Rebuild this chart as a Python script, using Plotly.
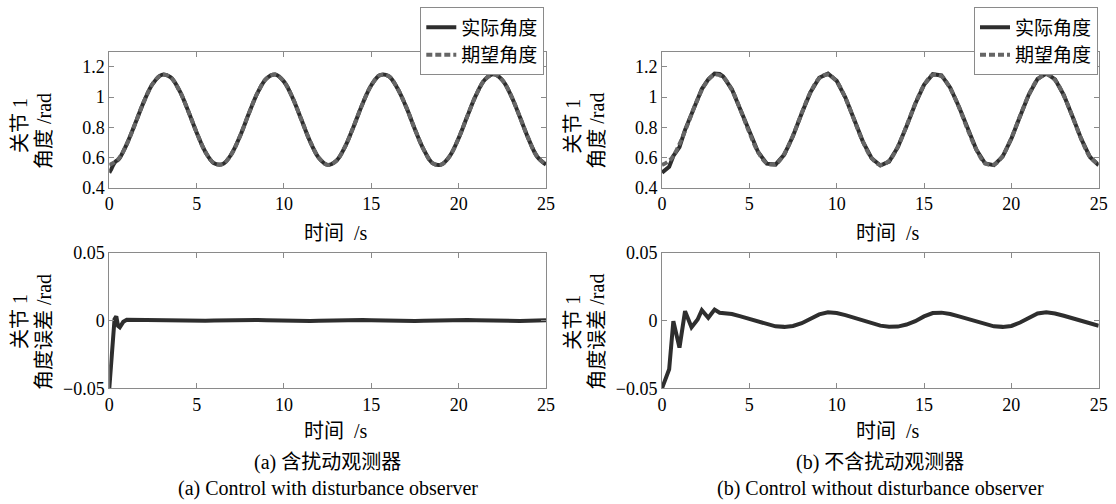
import plotly.graph_objects as go

# ---------------- data ----------------
t_grid = [0.0, 0.5, 1.0, 1.5, 2.0, 2.5, 3.0, 3.5, 4.0, 4.5, 5.0, 5.5, 6.0, 6.5, 7.0, 7.5,
          8.0, 8.5, 9.0, 9.5, 10.0, 10.5, 11.0, 11.5, 12.0, 12.5, 13.0, 13.5, 14.0, 14.5,
          15.0, 15.5, 16.0, 16.5, 17.0, 17.5, 18.0, 18.5, 19.0, 19.5, 20.0, 20.5, 21.0,
          21.5, 22.0, 22.5, 23.0, 23.5, 24.0, 24.5, 25.0]

desired_angle = [0.550, 0.587, 0.688, 0.829, 0.975, 1.090, 1.147, 1.131, 1.046, 0.913,
                 0.765, 0.637, 0.562, 0.557, 0.624, 0.746, 0.894, 1.031, 1.123, 1.149,
                 1.102, 0.993, 0.849, 0.705, 0.597, 0.551, 0.578, 0.672, 0.809, 0.956,
                 1.078, 1.145, 1.137, 1.057, 0.933, 0.785, 0.652, 0.563, 0.553, 0.611,
                 0.728, 0.874, 1.014, 1.115, 1.150, 1.112, 1.010, 0.869, 0.723, 0.605, 0.553]

# (a) with disturbance observer
t_actual_a = [0.0, 0.1, 0.2, 0.3, 0.4, 0.5, 0.6, 0.8, 1.0, 1.5, 2.0, 2.5, 3.0, 3.5, 4.0, 4.5,
              5.0, 5.5, 6.0, 6.5, 7.0, 7.5, 8.0, 8.5, 9.0, 9.5, 10.0, 10.5, 11.0, 11.5,
              12.0, 12.5, 13.0, 13.5, 14.0, 14.5, 15.0, 15.5, 16.0, 16.5, 17.0, 17.5, 18.0,
              18.5, 19.0, 19.5, 20.0, 20.5, 21.0, 21.5, 22.0, 22.5, 23.0, 23.5, 24.0, 24.5, 25.0]
actual_angle_a = [0.500, 0.520, 0.544, 0.564, 0.577, 0.583, 0.597, 0.640, 0.688, 0.829,
                  0.975, 1.090, 1.147, 1.131, 1.046, 0.913, 0.765, 0.637, 0.562, 0.557,
                  0.624, 0.746, 0.894, 1.031, 1.123, 1.149, 1.102, 0.993, 0.849, 0.705,
                  0.597, 0.551, 0.578, 0.672, 0.809, 0.956, 1.078, 1.145, 1.137, 1.057,
                  0.933, 0.785, 0.652, 0.563, 0.553, 0.611, 0.728, 0.874, 1.014, 1.115,
                  1.150, 1.112, 1.010, 0.869, 0.723, 0.605, 0.553]
error_a = [-0.0500, -0.0300, -0.0120, 0.0010, 0.0030, -0.0040, -0.0050, -0.0010, 0.0005,
           0.0004, 0.0002, 0.0000, -0.0002, -0.0004, -0.0005, -0.0005, -0.0004, -0.0002,
           0.0000, 0.0002, 0.0004, 0.0005, 0.0005, 0.0004, 0.0002, 0.0000, -0.0002, -0.0004,
           -0.0005, -0.0004, -0.0002, 0.0000, 0.0002, 0.0004, 0.0005, 0.0004, 0.0002, 0.0000,
           -0.0002, -0.0004, -0.0005, -0.0004, -0.0002, 0.0000, 0.0002, 0.0004, 0.0005,
           0.0004, 0.0002, 0.0000, -0.0002, -0.0004, -0.0005, -0.0004, -0.0002, 0.0000, 0.0002]

# (b) without disturbance observer
t_actual_b = [0.0, 0.41, 0.65, 1.0, 1.32, 1.69, 2.04, 2.28, 2.65, 3.01, 3.3, 3.5, 4.0, 4.5,
              5.0, 5.5, 6.0, 6.5, 7.0, 7.5, 8.0, 8.5, 9.0, 9.5, 10.0, 10.5, 11.0, 11.5,
              12.0, 12.5, 13.0, 13.5, 14.0, 14.5, 15.0, 15.5, 16.0, 16.5, 17.0, 17.5, 18.0,
              18.5, 19.0, 19.5, 20.0, 20.5, 21.0, 21.5, 22.0, 22.5, 23.0, 23.5, 24.0, 24.5, 25.0]
actual_angle_b = [0.500, 0.539, 0.610, 0.668, 0.783, 0.881, 0.987, 1.053, 1.117, 1.155,
                  1.152, 1.136, 1.051, 0.916, 0.766, 0.636, 0.559, 0.553, 0.619, 0.742,
                  0.892, 1.032, 1.128, 1.155, 1.108, 0.997, 0.851, 0.705, 0.595, 0.547,
                  0.573, 0.668, 0.806, 0.956, 1.081, 1.151, 1.143, 1.062, 0.936, 0.786,
                  0.651, 0.560, 0.549, 0.606, 0.724, 0.873, 1.016, 1.120, 1.156, 1.117,
                  1.014, 0.871, 0.723, 0.603, 0.549]
error_b = [-0.0500, -0.0360, -0.0005, -0.0200, 0.0069, -0.0050, 0.0007, 0.0076, 0.0020,
           0.0080, 0.0057, 0.0055, 0.0048, 0.0030, 0.0010, -0.0010, -0.0030, -0.0043,
           -0.0047, -0.0040, -0.0020, 0.0010, 0.0045, 0.0060, 0.0055, 0.0040, 0.0020,
           0.0000, -0.0020, -0.0038, -0.0046, -0.0045, -0.0030, -0.0005, 0.0030, 0.0055,
           0.0058, 0.0048, 0.0030, 0.0010, -0.0010, -0.0030, -0.0043, -0.0047, -0.0040,
           -0.0015, 0.0020, 0.0052, 0.0060, 0.0052, 0.0035, 0.0015, -0.0005, -0.0025, -0.0039]

x_ticks = [0, 5, 10, 15, 20, 25]
angle_ticks = [0.4, 0.6, 0.8, 1.0, 1.2]
angle_tick_text = ["0.4", "0.6", "0.8", "1", "1.2"]
err_ticks = [-0.05, 0, 0.05]
err_tick_text = ["\u22120.05", "0", "0.05"]

legend_names = ["实际角度", "期望角度"]
x_title = "时间  /s"
y_title_top = ["关节 1", "角度 /rad"]
y_title_bot = ["关节 1", "角度误差 /rad"]
captions = [["(a) 含扰动观测器", "(a) Control with disturbance observer"],
            ["(b) 不含扰动观测器", "(b) Control without disturbance observer"]]

# ---------------- layout geometry (pixels) ----------------
W, H = 1116, 504
cols = [(109.3, 546.0), (662.0, 1098.7)]
rows = [(51.7, 187.7), (252.7, 388.3)]

def xd(a, b):
    return [a / W, b / W]

def yd(top, bot):
    return [1 - bot / H, 1 - top / H]

SERIF = "Liberation Serif, Noto Sans CJK SC, serif"
TICKFONT = "Liberation Serif"
DARK = "#2e2e2e"
GRAY = "#666666"
AXC = "#8a8a8a"

fig = go.Figure()

def add(x, y, xa, ya, color, dash, name=None, legend=None, shape="linear", show=False):
    fig.add_trace(go.Scatter(
        x=x, y=y, mode="lines", xaxis=xa, yaxis=ya, name=name,
        line=dict(color=color, width=4, dash=dash, shape=shape),
        showlegend=show, legend=legend, hoverinfo="skip"))

# top-left
add(t_actual_a, actual_angle_a, "x", "y", DARK, "solid", legend_names[0], "legend", "spline", True)
add(t_grid, desired_angle, "x", "y", GRAY, "6px,3px", legend_names[1], "legend", "spline", True)
# top-right
add(t_actual_b, actual_angle_b, "x2", "y2", DARK, "solid", legend_names[0], "legend2", "linear", True)
add(t_grid, desired_angle, "x2", "y2", GRAY, "6px,3px", legend_names[1], "legend2", "spline", True)
# bottom-left
add(t_actual_a, error_a, "x3", "y3", DARK, "solid")
# bottom-right
add(t_actual_b, error_b, "x4", "y4", DARK, "solid")

axis_common = dict(showline=True, linecolor=AXC, linewidth=1, mirror="ticks",
                   ticks="inside", ticklen=5, tickcolor=AXC, tickwidth=1,
                   showgrid=False, zeroline=False, automargin=False,
                   tickfont=dict(family=TICKFONT, size=18, color="#000000"))

layout = dict(width=W, height=H, margin=dict(l=0, r=0, t=0, b=0, autoexpand=False),
              paper_bgcolor="white", plot_bgcolor="white", showlegend=True,
              font=dict(family=SERIF, size=18, color="#000000"))

idx = 0
for r, (top, bot) in enumerate(rows):
    for c, (left, right) in enumerate(cols):
        idx += 1
        sx = "" if idx == 1 else str(idx)
        layout["xaxis" + sx] = dict(axis_common, domain=xd(left, right), range=[0, 25],
                                    tickvals=x_ticks, anchor="y" + sx)
        if r == 0:
            ya = dict(axis_common, domain=yd(top, bot), range=[0.4, 1.3],
                      tickvals=angle_ticks, ticktext=angle_tick_text, anchor="x" + sx)
        else:
            ya = dict(axis_common, domain=yd(top, bot), range=[-0.05, 0.05],
                      tickvals=err_ticks, ticktext=err_tick_text, anchor="x" + sx)
        layout["yaxis" + sx] = ya

leg_common = dict(bgcolor="white", bordercolor=AXC, borderwidth=1,
                  font=dict(family=SERIF, size=19, color="#000000"),
                  xanchor="right", yanchor="top", yref="paper", xref="paper",
                  itemclick=False, itemdoubleclick=False, tracegroupgap=0)
layout["legend"] = dict(leg_common, x=544.3 / W, y=1 - 7.3 / H)
layout["legend2"] = dict(leg_common, x=1098.0 / W, y=1 - 7.3 / H)

fig.update_layout(**layout)

def ann(text, xp, yp, size=18, angle=0):
    fig.add_annotation(text=text, x=xp / W, y=1 - yp / H, xref="paper", yref="paper",
                       showarrow=False, xanchor="center", yanchor="middle",
                       textangle=angle, font=dict(family=SERIF, size=size, color="#000000"))

for c, (left, right) in enumerate(cols):
    cx = (left + right) / 2
    ann(x_title, cx + 8, 233, 20)
    ann(x_title, cx + 8, 431, 20)
    ann(captions[c][0], cx, 462, 20)
    ann(captions[c][1], cx, 488, 20)
    off = left - 109.3
    ann(y_title_top[0], 20 + off, 126, 20, -90)
    ann(y_title_top[1], 44 + off, 131, 20, -90)
    ann(y_title_bot[0], 20 + off, 322, 20, -90)
    ann(y_title_bot[1], 44 + off, 332, 20, -90)

fig.write_html("out.html", config={"displayModeBar": False},
               post_script="document.body.style.margin='0';document.body.style.overflow='hidden';")
